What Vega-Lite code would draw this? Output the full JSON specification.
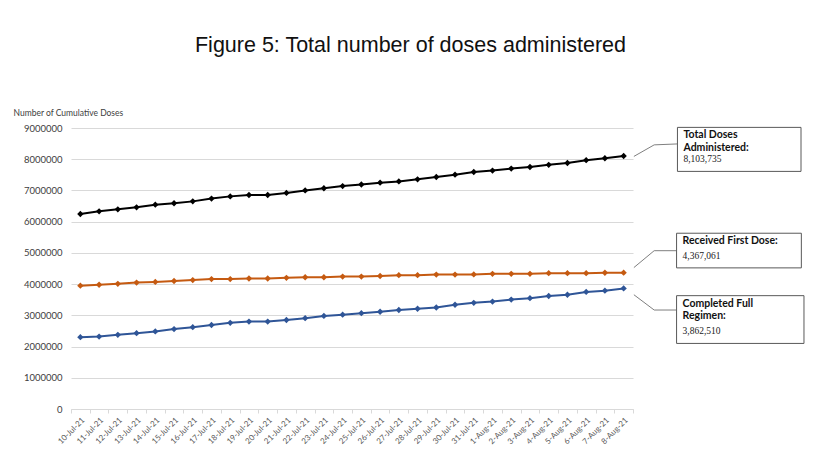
{
  "$schema": "https://vega.github.io/schema/vega-lite/v6.json",
  "padding": {"left": 13, "top": 34, "right": 5, "bottom": 5},
  "background": "white",
  "title": {
    "text": "Figure 5: Total number of doses administered",
    "font": "Liberation Sans",
    "fontSize": 21.5,
    "fontWeight": "normal",
    "color": "#111111",
    "anchor": "middle",
    "offset": 52
  },
  "config": {
    "font": "Lato",
    "view": {"stroke": null}
  },
  "bounds": "flush",
  "spacing": 0,
  "datasets": {
    "doses": [
      {"date": "10-Jul-21", "series": "Total Doses Administered", "value": 6246000},
      {"date": "11-Jul-21", "series": "Total Doses Administered", "value": 6330000},
      {"date": "12-Jul-21", "series": "Total Doses Administered", "value": 6395000},
      {"date": "13-Jul-21", "series": "Total Doses Administered", "value": 6460000},
      {"date": "14-Jul-21", "series": "Total Doses Administered", "value": 6545000},
      {"date": "15-Jul-21", "series": "Total Doses Administered", "value": 6590000},
      {"date": "16-Jul-21", "series": "Total Doses Administered", "value": 6650000},
      {"date": "17-Jul-21", "series": "Total Doses Administered", "value": 6740000},
      {"date": "18-Jul-21", "series": "Total Doses Administered", "value": 6810000},
      {"date": "19-Jul-21", "series": "Total Doses Administered", "value": 6855000},
      {"date": "20-Jul-21", "series": "Total Doses Administered", "value": 6855000},
      {"date": "21-Jul-21", "series": "Total Doses Administered", "value": 6920000},
      {"date": "22-Jul-21", "series": "Total Doses Administered", "value": 7000000},
      {"date": "23-Jul-21", "series": "Total Doses Administered", "value": 7070000},
      {"date": "24-Jul-21", "series": "Total Doses Administered", "value": 7140000},
      {"date": "25-Jul-21", "series": "Total Doses Administered", "value": 7190000},
      {"date": "26-Jul-21", "series": "Total Doses Administered", "value": 7250000},
      {"date": "27-Jul-21", "series": "Total Doses Administered", "value": 7290000},
      {"date": "28-Jul-21", "series": "Total Doses Administered", "value": 7355000},
      {"date": "29-Jul-21", "series": "Total Doses Administered", "value": 7430000},
      {"date": "30-Jul-21", "series": "Total Doses Administered", "value": 7505000},
      {"date": "31-Jul-21", "series": "Total Doses Administered", "value": 7590000},
      {"date": "1-Aug-21", "series": "Total Doses Administered", "value": 7635000},
      {"date": "2-Aug-21", "series": "Total Doses Administered", "value": 7700000},
      {"date": "3-Aug-21", "series": "Total Doses Administered", "value": 7750000},
      {"date": "4-Aug-21", "series": "Total Doses Administered", "value": 7820000},
      {"date": "5-Aug-21", "series": "Total Doses Administered", "value": 7880000},
      {"date": "6-Aug-21", "series": "Total Doses Administered", "value": 7970000},
      {"date": "7-Aug-21", "series": "Total Doses Administered", "value": 8030000},
      {"date": "8-Aug-21", "series": "Total Doses Administered", "value": 8103735},
      {"date": "10-Jul-21", "series": "Received First Dose", "value": 3950000},
      {"date": "11-Jul-21", "series": "Received First Dose", "value": 3980000},
      {"date": "12-Jul-21", "series": "Received First Dose", "value": 4010000},
      {"date": "13-Jul-21", "series": "Received First Dose", "value": 4050000},
      {"date": "14-Jul-21", "series": "Received First Dose", "value": 4070000},
      {"date": "15-Jul-21", "series": "Received First Dose", "value": 4100000},
      {"date": "16-Jul-21", "series": "Received First Dose", "value": 4130000},
      {"date": "17-Jul-21", "series": "Received First Dose", "value": 4160000},
      {"date": "18-Jul-21", "series": "Received First Dose", "value": 4160000},
      {"date": "19-Jul-21", "series": "Received First Dose", "value": 4180000},
      {"date": "20-Jul-21", "series": "Received First Dose", "value": 4180000},
      {"date": "21-Jul-21", "series": "Received First Dose", "value": 4200000},
      {"date": "22-Jul-21", "series": "Received First Dose", "value": 4220000},
      {"date": "23-Jul-21", "series": "Received First Dose", "value": 4220000},
      {"date": "24-Jul-21", "series": "Received First Dose", "value": 4240000},
      {"date": "25-Jul-21", "series": "Received First Dose", "value": 4240000},
      {"date": "26-Jul-21", "series": "Received First Dose", "value": 4260000},
      {"date": "27-Jul-21", "series": "Received First Dose", "value": 4285000},
      {"date": "28-Jul-21", "series": "Received First Dose", "value": 4285000},
      {"date": "29-Jul-21", "series": "Received First Dose", "value": 4305000},
      {"date": "30-Jul-21", "series": "Received First Dose", "value": 4305000},
      {"date": "31-Jul-21", "series": "Received First Dose", "value": 4310000},
      {"date": "1-Aug-21", "series": "Received First Dose", "value": 4330000},
      {"date": "2-Aug-21", "series": "Received First Dose", "value": 4330000},
      {"date": "3-Aug-21", "series": "Received First Dose", "value": 4330000},
      {"date": "4-Aug-21", "series": "Received First Dose", "value": 4350000},
      {"date": "5-Aug-21", "series": "Received First Dose", "value": 4350000},
      {"date": "6-Aug-21", "series": "Received First Dose", "value": 4350000},
      {"date": "7-Aug-21", "series": "Received First Dose", "value": 4365000},
      {"date": "8-Aug-21", "series": "Received First Dose", "value": 4367061},
      {"date": "10-Jul-21", "series": "Completed Full Regimen", "value": 2300000},
      {"date": "11-Jul-21", "series": "Completed Full Regimen", "value": 2320000},
      {"date": "12-Jul-21", "series": "Completed Full Regimen", "value": 2375000},
      {"date": "13-Jul-21", "series": "Completed Full Regimen", "value": 2430000},
      {"date": "14-Jul-21", "series": "Completed Full Regimen", "value": 2485000},
      {"date": "15-Jul-21", "series": "Completed Full Regimen", "value": 2560000},
      {"date": "16-Jul-21", "series": "Completed Full Regimen", "value": 2620000},
      {"date": "17-Jul-21", "series": "Completed Full Regimen", "value": 2690000},
      {"date": "18-Jul-21", "series": "Completed Full Regimen", "value": 2760000},
      {"date": "19-Jul-21", "series": "Completed Full Regimen", "value": 2800000},
      {"date": "20-Jul-21", "series": "Completed Full Regimen", "value": 2800000},
      {"date": "21-Jul-21", "series": "Completed Full Regimen", "value": 2850000},
      {"date": "22-Jul-21", "series": "Completed Full Regimen", "value": 2910000},
      {"date": "23-Jul-21", "series": "Completed Full Regimen", "value": 2980000},
      {"date": "24-Jul-21", "series": "Completed Full Regimen", "value": 3020000},
      {"date": "25-Jul-21", "series": "Completed Full Regimen", "value": 3070000},
      {"date": "26-Jul-21", "series": "Completed Full Regimen", "value": 3115000},
      {"date": "27-Jul-21", "series": "Completed Full Regimen", "value": 3170000},
      {"date": "28-Jul-21", "series": "Completed Full Regimen", "value": 3210000},
      {"date": "29-Jul-21", "series": "Completed Full Regimen", "value": 3250000},
      {"date": "30-Jul-21", "series": "Completed Full Regimen", "value": 3340000},
      {"date": "31-Jul-21", "series": "Completed Full Regimen", "value": 3400000},
      {"date": "1-Aug-21", "series": "Completed Full Regimen", "value": 3440000},
      {"date": "2-Aug-21", "series": "Completed Full Regimen", "value": 3505000},
      {"date": "3-Aug-21", "series": "Completed Full Regimen", "value": 3550000},
      {"date": "4-Aug-21", "series": "Completed Full Regimen", "value": 3620000},
      {"date": "5-Aug-21", "series": "Completed Full Regimen", "value": 3660000},
      {"date": "6-Aug-21", "series": "Completed Full Regimen", "value": 3750000},
      {"date": "7-Aug-21", "series": "Completed Full Regimen", "value": 3790000},
      {"date": "8-Aug-21", "series": "Completed Full Regimen", "value": 3862510}
    ],
    "notes": [
      {"series": "Total Doses Administered", "label": ["Total Doses", "Administered:"], "value": "8,103,735", "left": 25.4, "right": 96, "bottom": 7610000, "top": 9020000},
      {"series": "Received First Dose", "label": ["Received First Dose:"], "value": "4,367,061", "left": 24.9, "right": 96.2, "bottom": 4520000, "top": 5630000},
      {"series": "Completed Full Regimen", "label": ["Completed Full", "Regimen:"], "value": "3,862,510", "left": 24.9, "right": 97.7, "bottom": 2100000, "top": 3630000}
    ],
    "leaders": [
      {"series": "Total Doses Administered", "k": 0, "u": 0.5, "v": 8090000},
      {"series": "Total Doses Administered", "k": 1, "u": 12.1, "v": 8460000},
      {"series": "Total Doses Administered", "k": 2, "u": 25.4, "v": 8490000},
      {"series": "Received First Dose", "k": 0, "u": 0.5, "v": 4530000},
      {"series": "Received First Dose", "k": 1, "u": 12.1, "v": 5070000},
      {"series": "Received First Dose", "k": 2, "u": 24.9, "v": 5070000},
      {"series": "Completed Full Regimen", "k": 0, "u": 0.5, "v": 3660000},
      {"series": "Completed Full Regimen", "k": 1, "u": 12.1, "v": 3170000},
      {"series": "Completed Full Regimen", "k": 2, "u": 24.9, "v": 3170000}
    ]
  },
  "hconcat": [
    {
      "width": 562,
      "height": 281,
      "data": {"name": "doses"},
      "mark": {"type": "line", "strokeWidth": 2, "point": {"shape": "diamond", "size": 40, "filled": true}},
      "encoding": {
        "x": {
          "field": "date",
          "type": "ordinal",
          "sort": null,
          "bandPosition": 0.5,
          "scale": {"type": "band", "paddingInner": 0, "paddingOuter": 0},
          "axis": {
            "title": null,
            "labelAngle": -45,
            "labelFontSize": 8,
            "labelColor": "#595959",
            "labelPadding": 3,
            "tickBand": "extent",
            "tickSize": 4,
            "tickColor": "#d9d9d9",
            "domainColor": "#d9d9d9",
            "grid": false
          }
        },
        "y": {
          "field": "value",
          "type": "quantitative",
          "scale": {"domain": [0, 9000000], "nice": false},
          "axis": {
            "title": "Number of Cumulative Doses",
            "titleAngle": 0,
            "titleAlign": "left",
            "titleBaseline": "middle",
            "titleX": -58,
            "titleY": -16,
            "titleFontSize": 8.5,
            "titleFontWeight": "normal",
            "titleColor": "#404040",
            "tickCount": 10,
            "format": "d",
            "labelFontSize": 9.5,
            "labelColor": "#404040",
            "labelPadding": 9,
            "ticks": false,
            "domain": false,
            "gridColor": "#d9d9d9",
            "gridWidth": 1
          }
        },
        "color": {
          "field": "series",
          "type": "nominal",
          "scale": {
            "domain": ["Total Doses Administered", "Received First Dose", "Completed Full Regimen"],
            "range": ["#000000", "#C55A11", "#2F5597"]
          },
          "legend": null
        }
      }
    },
    {
      "width": 175,
      "height": 281,
      "layer": [
        {
          "data": {"name": "leaders"},
          "mark": {"type": "line", "color": "#7f7f7f", "strokeWidth": 1},
          "encoding": {
            "x": {"field": "u", "type": "quantitative", "scale": {"domain": [0, 100], "nice": false, "zero": false}, "axis": null},
            "y": {"field": "v", "type": "quantitative", "scale": {"domain": [0, 9000000], "nice": false}, "axis": null},
            "detail": {"field": "series"},
            "order": {"field": "k"}
          }
        },
        {
          "data": {"name": "notes"},
          "mark": {"type": "rect", "fill": "white", "stroke": "#595959", "strokeWidth": 1},
          "encoding": {
            "x": {"field": "left", "type": "quantitative"},
            "x2": {"field": "right"},
            "y": {"field": "bottom", "type": "quantitative"},
            "y2": {"field": "top"}
          }
        },
        {
          "data": {"name": "notes"},
          "mark": {"type": "text", "align": "left", "baseline": "top", "dx": 6, "dy": 3, "font": "Lato", "fontWeight": "bold", "fontSize": 10.5, "lineHeight": 12.5, "color": "#111111"},
          "encoding": {
            "x": {"field": "left", "type": "quantitative"},
            "y": {"field": "top", "type": "quantitative"},
            "text": {"field": "label"}
          }
        },
        {
          "data": {"name": "notes"},
          "mark": {"type": "text", "align": "left", "baseline": "bottom", "dx": 6, "dy": -7, "font": "Liberation Serif", "fontSize": 9.5, "color": "#222222"},
          "encoding": {
            "x": {"field": "left", "type": "quantitative"},
            "y": {"field": "bottom", "type": "quantitative"},
            "text": {"field": "value"}
          }
        }
      ]
    }
  ]
}
